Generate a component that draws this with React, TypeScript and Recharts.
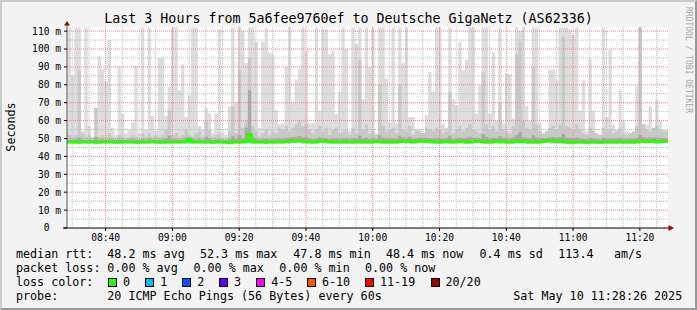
import React from 'react';
import { ComposedChart, Area, Line, XAxis, YAxis, ReferenceLine, ReferenceDot, CartesianGrid } from 'recharts';

// first one-minute step starts at 08:27.6 (minutes since midnight)
const START_MIN = 507.6;
const X_DOMAIN: [number, number] = [508.43, 688.43];
const Y_DOMAIN: [number, number] = [0, 112.3];

// max rtt per minute (ms) - top of the light smoke
const rttMax = [
  54, 112, 85, 112, 112, 54, 112, 57, 51, 67, 96, 88.5, 82, 105, 56, 52, 90, 64, 53, 55, 59, 90.7, 53, 112, 55, 112, 62.6, 54, 95, 95, 62.6, 79, 112, 112, 77, 91.5,
  62, 74, 112, 112, 57, 55, 67, 64, 53, 64, 111, 53, 52, 68, 112, 70, 112, 110, 92, 112, 112, 104, 56, 104, 112, 98, 97, 66, 58, 58.5, 90, 112, 70, 83, 89, 112,
  99, 58.5, 58.5, 112, 65.5, 111, 111, 97, 99, 63.7, 76, 112, 100, 54, 112, 102.6, 112, 72, 112, 90, 112, 53, 112, 112, 83.5, 59, 112, 58.5, 112, 92, 112, 62, 62, 51.5, 55, 53,
  63, 87, 76, 112, 112, 58, 56, 112, 72, 68.7, 103.7, 88, 94, 112, 112, 64, 80, 112, 112, 64, 98, 60, 112, 58.5, 86, 86, 61, 112, 110, 112, 68, 60, 112, 112, 58.5, 52,
  54, 88.5, 88.5, 82.6, 112, 112, 112, 111, 108, 112, 65.5, 82.6, 54, 94, 65.5, 51.6, 51.6, 112, 62, 99.6, 58, 55, 77.4, 60, 54, 53, 53, 79, 112, 58, 58, 68, 55, 71.5, 60, 55, 55,
];

// upper ping band (ms) - top of the medium smoke
const rttHigh = [
  53, 52, 51, 52, 88, 53, 51, 52, 50, 67, 51, 52, 51, 53, 51, 50, 52, 51, 50, 51, 52, 51, 50, 53, 51, 53, 51, 52, 51, 52, 55, 66, 52, 53, 51, 52,
  55, 52, 51, 53, 54, 51, 60, 55, 51, 52, 53, 50, 50, 54, 68, 53, 88, 56, 60, 95, 57, 54, 51, 53, 55, 52, 54, 53, 56, 55, 57, 54, 56, 58, 60, 57,
  58, 55, 53, 55, 57, 54, 56, 52, 55, 56, 53, 54, 55, 52, 56, 53, 94, 55, 58, 53, 54, 52, 80, 57, 54, 55, 56, 53, 80, 55, 54, 57, 52, 55, 54, 53,
  56, 55, 54, 56, 55, 53, 54, 76, 53, 55, 57, 54, 56, 58, 55, 54, 53, 87, 58, 55, 57, 54, 70, 55, 54, 53, 57, 97, 104, 60, 56, 55, 90, 58, 54, 53,
  54, 56, 57, 55, 58, 107, 57, 56, 55, 58, 55, 53, 52, 56, 54, 53, 52, 56, 54, 55, 53, 54, 56, 53, 52, 53, 54, 57, 112, 58, 55, 54, 56, 57, 55, 54, 54,
];

// pings closest to the median (ms) - top of the dark smoke
const rttDark = [
  49.6, 49.4, 49.3, 49.5, 50.5, 49.4, 49.2, 49.5, 49.2, 50.8, 49.3, 49.5, 49.2, 49.6, 49.3, 49.1, 49.4, 49.3, 49.2, 49.4, 49.6, 49.3, 49.1, 49.6, 49.3, 49.8, 49.3, 49.5, 49.3, 49.4, 50.2, 51.5, 49.5, 49.6, 49.3, 49.5,
  50.6, 51.0, 49.6, 49.5, 49.7, 49.3, 51.0, 50.2, 49.2, 49.4, 49.6, 49.1, 49.1, 49.8, 51.5, 49.6, 52.0, 50.2, 56.0, 77.0, 51.0, 49.8, 49.3, 49.6, 49.9, 49.5, 49.8, 49.6, 50.1, 50.0, 50.6, 50.4, 50.8, 51.0, 51.4, 50.6,
  50.8, 50.0, 49.6, 49.8, 50.6, 50.4, 50.2, 49.6, 49.8, 50.2, 49.7, 49.8, 50.0, 49.5, 50.2, 49.8, 51.5, 49.9, 50.6, 49.7, 49.9, 49.6, 51.8, 50.4, 49.8, 50.0, 50.2, 49.7, 51.6, 50.6, 50.2, 51.0, 49.8, 50.2, 50.6, 50.3,
  50.4, 50.1, 49.9, 50.2, 50.0, 49.8, 50.2, 51.6, 49.6, 50.0, 50.6, 50.2, 50.4, 51.0, 50.3, 50.4, 50.0, 52.5, 50.8, 50.0, 50.6, 50.2, 51.4, 50.3, 50.0, 49.8, 50.6, 52.0, 53.5, 50.8, 50.4, 49.9, 51.8, 50.6, 50.2, 50.1,
  50.3, 50.6, 50.8, 50.4, 50.9, 52.5, 50.6, 50.2, 49.9, 50.6, 50.0, 49.7, 49.5, 50.2, 49.9, 49.6, 49.5, 50.4, 49.8, 50.1, 49.7, 49.9, 50.3, 49.8, 49.6, 49.8, 50.0, 50.6, 52.0, 50.8, 50.3, 50.6, 50.4, 50.6, 50.2, 50.0, 50.0,
];

// min rtt per minute (ms) - bottom of the smoke
const rttMin = [
  47.0, 47.2, 47.1, 46.8, 47.0, 47.2, 46.9, 47.1, 47.2, 46.6, 47.1, 47.2, 47.0, 47.1, 47.2, 47.0, 46.8, 47.1, 47.2, 47.0, 47.1, 46.7, 47.2, 47.0, 46.9, 47.1, 47.2, 47.0, 46.8, 47.1, 47.0, 46.9, 47.2, 47.1, 47.0, 47.2,
  47.0, 47.1, 46.9, 47.2, 47.1, 47.0, 46.8, 47.0, 46.9, 47.1, 47.0, 47.0, 46.8, 46.7, 47.0, 47.1, 46.9, 47.0, 47.1, 47.0, 46.6, 47.0, 47.1, 47.0, 46.9, 47.0, 46.8, 47.0, 47.1, 47.0, 47.2, 47.1, 47.3, 47.2, 47.3, 47.0,
  47.1, 47.0, 46.9, 47.1, 47.2, 47.3, 47.1, 47.0, 46.9, 47.0, 47.1, 47.0, 46.9, 47.0, 46.8, 47.1, 47.0, 46.9, 47.0, 47.1, 47.0, 47.2, 47.1, 47.0, 46.9, 47.1, 47.0, 46.9, 47.2, 47.3, 47.2, 47.1, 47.0, 47.1, 47.2, 47.3,
  47.2, 47.1, 47.0, 46.9, 47.0, 47.1, 47.2, 47.0, 46.9, 47.1, 47.2, 47.1, 46.9, 47.0, 47.2, 47.3, 47.2, 47.0, 46.9, 46.8, 47.1, 47.3, 47.0, 47.2, 47.0, 46.9, 47.0, 47.3, 47.1, 47.2, 47.0, 46.8, 46.9, 46.8, 47.0, 47.2,
  47.3, 47.2, 47.1, 47.0, 46.9, 46.8, 46.7, 46.6, 46.7, 46.8, 46.9, 46.8, 46.7, 46.8, 46.9, 46.8, 46.7, 46.8, 46.9, 46.8, 46.8, 46.9, 47.0, 46.9, 46.8, 46.8, 46.9, 47.0, 47.3, 47.2, 47.1, 47.3, 47.2, 47.0, 47.1, 47.2, 47.2,
];

// median rtt per minute (ms)
const rttMedian = [
  48.0, 48.0, 48.1, 48.0, 47.9, 48.0, 48.0, 48.1, 48.0, 48.0, 47.9, 48.0, 48.0, 48.1, 48.0, 47.9, 48.0, 48.0, 48.0, 48.1, 48.0, 48.0, 47.9, 48.0, 48.0, 48.1, 48.0, 48.0, 48.0, 47.9, 48.0, 48.1, 48.0, 48.0, 48.0, 48.1,
  48.3, 49.4, 48.2, 48.0, 48.0, 48.1, 48.0, 48.0, 47.9, 48.0, 48.0, 48.0, 47.9, 47.8, 48.0, 48.1, 48.0, 48.2, 48.4, 52.3, 48.6, 48.1, 48.0, 48.0, 47.9, 48.0, 48.1, 48.0, 48.0, 48.1, 48.3, 48.5, 48.6, 48.7, 48.8, 48.4,
  48.3, 48.2, 48.1, 48.0, 48.4, 48.6, 48.3, 48.2, 48.0, 48.1, 48.2, 48.1, 48.0, 48.0, 48.1, 48.2, 48.1, 48.0, 48.0, 48.1, 48.2, 48.3, 48.2, 48.1, 48.0, 48.2, 48.1, 48.0, 48.3, 48.6, 48.5, 48.3, 48.2, 48.4, 48.6, 48.5,
  48.4, 48.3, 48.2, 48.1, 48.0, 48.2, 48.3, 48.1, 48.0, 48.2, 48.4, 48.3, 48.0, 48.1, 48.3, 48.6, 48.4, 48.2, 48.1, 48.0, 48.3, 48.5, 48.2, 48.4, 48.1, 48.0, 48.2, 48.6, 48.3, 48.5, 48.2, 48.0, 48.1, 48.0, 48.2, 48.4,
  48.7, 48.7, 48.6, 48.6, 48.5, 48.4, 48.2, 47.9, 47.9, 48.0, 48.1, 48.0, 47.9, 48.0, 48.1, 48.0, 47.9, 48.0, 48.1, 48.0, 48.0, 48.1, 48.2, 48.1, 48.0, 48.0, 48.1, 48.2, 48.5, 48.4, 48.3, 48.6, 48.4, 48.2, 48.3, 48.4, 48.4,
];

const yTicks = [0, 10, 20, 30, 40, 50, 60, 70, 80, 90, 100, 110];
const yMinorGrid = [5, 15, 25, 35, 45, 55, 65, 75, 85, 95, 105];
const yMajorGrid = [10, 20, 30, 40, 50, 60, 70, 80, 90, 100, 110];
const xTicks = [520, 540, 560, 580, 600, 620, 640, 660, 680];
const xMinorGrid = [510, 515, 525, 530, 535, 545, 550, 555, 565, 570, 575, 585, 590, 595, 605, 610, 615, 625, 630, 635, 645, 650, 655, 665, 670, 675, 685];

const title = 'Last 3 Hours from 5a6fee9760ef to Deutsche GigaNetz (AS62336)';
const yLabel = 'Seconds';
const sideText = 'RRDTOOL / TOBI OETIKER';

const statsRow1 = [
  { x: 16, t: 'median rtt:' },
  { x: 107.3, t: '48.2 ms avg' },
  { x: 200, t: '52.3 ms max' },
  { x: 293.3, t: '47.8 ms min' },
  { x: 386, t: '48.4 ms now' },
  { x: 479.5, t: '0.4 ms sd' },
  { x: 558.3, t: '113.4' },
  { x: 614, t: 'am/s' },
];
const statsRow2 = [
  { x: 16, t: 'packet loss:' },
  { x: 107.3, t: '0.00 % avg' },
  { x: 193.5, t: '0.00 % max' },
  { x: 279.3, t: '0.00 % min' },
  { x: 365, t: '0.00 % now' },
];
const lossLabels = ['0', '1', '2', '3', '4-5', '6-10', '11-19', '20/20'];
const lossColors = ['#26ff00', '#00b8ff', '#0059ff', '#5e00ff', '#ff00ff', '#ff5500', '#ff0000', '#a10000'];
const lossBoxX = [108, 145.3, 182.3, 219, 256.3, 307, 365, 430.5];
const probeText = '20 ICMP Echo Pings (56 Bytes) every 60s';
const dateText = 'Sat May 10 11:28:26 2025';

const MONO = '"DejaVu Sans Mono", monospace';

const rows = rttMax.map((mx, i) => ({
  t: START_MIN + i,
  light: [rttMin[i], mx],
  medium: [rttMin[i] + 0.3, rttHigh[i]],
  dark: [rttMin[i] + 0.7, rttDark[i]],
  median: rttMedian[i],
}));
const data = [...rows, { ...rows[rows.length - 1], t: START_MIN + rows.length }];

const fmtTime = (m: number) => {
  const h = Math.floor(m / 60);
  const mm = Math.round(m - h * 60);
  return `${String(h).padStart(2, '0')}:${String(mm).padStart(2, '0')}`;
};
const fmtY = (v: number) => (v === 0 ? '0\u00a0\u00a0' : `${v} m`);

const YArrow = (props: any) => {
  const { cx, cy } = props;
  return (
    <g>
      <line x1={cx} y1={cy} x2={cx} y2={cy - 2} stroke="#555" strokeWidth={1} />
      <polygon points={`${cx - 3},${cy - 1.5} ${cx + 3},${cy - 1.5} ${cx},${cy - 6}`} fill="#a00000" />
    </g>
  );
};
const XArrow = (props: any) => {
  const { cx, cy } = props;
  return (
    <g>
      <line x1={cx} y1={cy} x2={cx + 1} y2={cy} stroke="#000" strokeWidth={1} />
      <polygon points={`${cx + 0.5},${cy - 3} ${cx + 0.5},${cy + 3} ${cx + 6},${cy}`} fill="#a00000" />
    </g>
  );
};
const XLeftExt = (props: any) => {
  const { cx, cy } = props;
  return <line x1={cx - 4} y1={cy} x2={cx} y2={cy} stroke="#000" strokeWidth={1} />;
};

const textStyle: React.CSSProperties = {
  position: 'absolute',
  fontFamily: MONO,
  fontSize: 11.7,
  lineHeight: '14px',
  color: '#000',
  whiteSpace: 'pre',
};

export default function App() {
  return (
    <div style={{ position: 'absolute', left: 0, top: 0, width: 697, height: 310, background: '#f3f3f3', overflow: 'hidden' }}>
      <ComposedChart
        width={697}
        height={310}
        data={data}
        margin={{ top: 27, right: 29, bottom: 62, left: 0 }}
        style={{ position: 'absolute', left: 0, top: 0 }}
      >
        <CartesianGrid horizontal={false} vertical={false} fill="#ffffff" />
        <XAxis
          type="number"
          dataKey="t"
          domain={X_DOMAIN}
          allowDataOverflow
          ticks={xTicks}
          tickFormatter={fmtTime}
          height={20}
          axisLine={{ stroke: '#000' }}
          tickLine={{ stroke: '#000' }}
          tickSize={3}
          tickMargin={3}
          tick={{ fontFamily: MONO, fontSize: 9.6, fill: '#000' }}
        />
        <YAxis
          type="number"
          domain={Y_DOMAIN}
          allowDataOverflow
          ticks={yTicks}
          tickFormatter={fmtY}
          width={67}
          axisLine={{ stroke: '#555' }}
          tickLine={{ stroke: '#000' }}
          tickSize={3}
          tickMargin={3}
          tick={{ fontFamily: MONO, fontSize: 9.6, fill: '#000' }}
        />
        <Area dataKey="light" type="stepAfter" stroke="none" fill="#dddddd" fillOpacity={1} isAnimationActive={false} />
        <Area dataKey="medium" type="stepAfter" stroke="none" fill="#c9c9c9" fillOpacity={1} isAnimationActive={false} />
        <Area dataKey="dark" type="stepAfter" stroke="none" fill="#a9a9a9" fillOpacity={1} isAnimationActive={false} />
        {yMinorGrid.map((v) => (
          <ReferenceLine key={`ym${v}`} y={v} stroke="#bdbdbd" strokeDasharray="1 1" />
        ))}
        {xMinorGrid.map((v) => (
          <ReferenceLine key={`xm${v}`} x={v} stroke="#bdbdbd" strokeDasharray="1 1" />
        ))}
        {yMajorGrid.map((v) => (
          <ReferenceLine key={`yM${v}`} y={v} stroke="#e08c8c" strokeDasharray="1 1" />
        ))}
        {xTicks.map((v) => (
          <ReferenceLine key={`xM${v}`} x={v} stroke="#e08c8c" strokeDasharray="1 1" />
        ))}
        <Line dataKey="median" type="stepAfter" stroke="#26ff00" strokeWidth={3} dot={false} isAnimationActive={false} />
        <ReferenceDot x={X_DOMAIN[0]} y={Y_DOMAIN[1]} shape={YArrow} ifOverflow="visible" />
        <ReferenceDot x={X_DOMAIN[1]} y={0} shape={XArrow} ifOverflow="visible" />
        <ReferenceDot x={X_DOMAIN[0]} y={0} shape={XLeftExt} ifOverflow="visible" />
      </ComposedChart>

      <div style={{ ...textStyle, left: 0, width: 697, top: 11, fontSize: 13.3, lineHeight: '16px', textAlign: 'center' }}>{title}</div>
      <div
        style={{
          ...textStyle,
          left: 11 - 40,
          top: 127 - 7,
          width: 80,
          textAlign: 'center',
          transform: 'rotate(-90deg)',
        }}
      >
        {yLabel}
      </div>
      <div
        style={{
          ...textStyle,
          fontSize: 8,
          lineHeight: '10px',
          color: '#a8a8a8',
          left: 688 - 60,
          top: 60 - 5,
          width: 120,
          textAlign: 'center',
          transform: 'rotate(90deg)',
        }}
      >
        {sideText}
      </div>

      {statsRow1.map((s, i) => (
        <div key={`r1${i}`} style={{ ...textStyle, left: s.x, top: 247.3 }}>{s.t}</div>
      ))}
      {statsRow2.map((s, i) => (
        <div key={`r2${i}`} style={{ ...textStyle, left: s.x, top: 261.3 }}>{s.t}</div>
      ))}
      <div style={{ ...textStyle, left: 16, top: 275.3 }}>loss color:</div>
      {lossLabels.map((l, i) => (
        <React.Fragment key={`lc${i}`}>
          <div
            style={{
              position: 'absolute',
              left: lossBoxX[i],
              top: 277.7,
              width: 7,
              height: 7,
              background: lossColors[i],
              border: '1px solid #000',
            }}
          />
          <div style={{ ...textStyle, left: lossBoxX[i] + 15, top: 275.3 }}>{l}</div>
        </React.Fragment>
      ))}
      <div style={{ ...textStyle, left: 16, top: 289 }}>probe:</div>
      <div style={{ ...textStyle, left: 107.3, top: 289 }}>{probeText}</div>
      <div style={{ ...textStyle, left: 513.3, top: 289 }}>{dateText}</div>

      <div
        style={{
          position: 'absolute',
          left: 0,
          top: 0,
          width: 697,
          height: 310,
          boxSizing: 'border-box',
          borderTop: '2px solid #cbcbcb',
          borderLeft: '2px solid #cbcbcb',
          borderRight: '2px solid #999999',
          borderBottom: '2px solid #999999',
          pointerEvents: 'none',
        }}
      />
    </div>
  );
}
